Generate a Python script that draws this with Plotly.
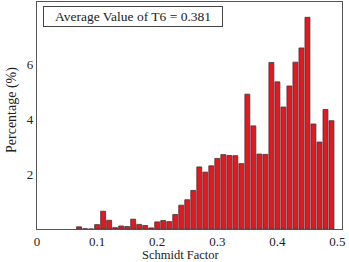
import plotly.graph_objects as go

bin_centers = [0.07, 0.08, 0.09, 0.10, 0.11, 0.12, 0.13, 0.14, 0.15, 0.16, 0.17, 0.18, 0.19,
               0.20, 0.21, 0.22, 0.23, 0.24, 0.25, 0.26, 0.27, 0.28, 0.29, 0.30, 0.31, 0.32,
               0.33, 0.34, 0.35, 0.36, 0.37, 0.38, 0.39, 0.40, 0.41, 0.42, 0.43, 0.44, 0.45,
               0.46, 0.47, 0.48, 0.49]
percentages = [0.08, 0.01, 0.0, 0.16, 0.65, 0.32, 0.05, 0.11, 0.09, 0.36, 0.17, 0.13, 0.04,
               0.26, 0.31, 0.27, 0.53, 0.87, 1.07, 1.41, 2.27, 2.08, 2.31, 2.58, 2.72, 2.69,
               2.68, 2.39, 4.93, 3.77, 2.74, 2.73, 6.09, 5.38, 4.46, 5.23, 6.10, 6.62, 7.74,
               3.84, 3.18, 4.37, 3.96]
x_tick_vals = [0, 0.1, 0.2, 0.3, 0.4, 0.5]
x_tick_text = ["0", "0.1", "0.2", "0.3", "0.4", "0.5"]
y_tick_vals = [2, 4, 6]
y_tick_text = ["2", "4", "6"]
annotation_text = "Average Value of T6 = 0.381"
x_title = "Schmidt Factor"
y_title = "Percentage (%)"

font_family = "Liberation Serif, Times New Roman, serif"

# plot area in pixels: x 37..342, y 2..229
def px(x):
    return (x - 37) / 305

def py(y):
    return (229 - y) / 227

fig = go.Figure()
fig.add_trace(go.Bar(
    x=bin_centers, y=percentages, width=0.0082,
    marker=dict(color="#e8161e", line=dict(color="#3a3a3a", width=0.8)),
))

fig.update_layout(
    width=349, height=262,
    margin=dict(l=37, r=7, t=2, b=33),
    paper_bgcolor="white", plot_bgcolor="white",
    showlegend=False,
    font=dict(family=font_family, size=13, color="#222"),
    xaxis=dict(range=[0, 0.5075], tickvals=x_tick_vals, ticktext=x_tick_text,
               showgrid=False, zeroline=False, showline=True, linecolor="#555",
               linewidth=1.2, mirror=True, ticks="", ticklen=0, automargin=False),
    yaxis=dict(range=[0, 8.3], tickvals=y_tick_vals, ticktext=y_tick_text,
               showgrid=False, zeroline=False, showline=True, linecolor="#555",
               linewidth=1.2, mirror=True, ticks="", ticklen=0, automargin=False),
    annotations=[
        dict(text=annotation_text, xref="paper", yref="paper",
             x=px(133), y=py(17), xanchor="center", yanchor="middle",
             showarrow=False, font=dict(size=13.5, color="#222"),
             bordercolor="#444", borderwidth=1, bgcolor="white",
             borderpad=2, width=174, height=15),
        dict(text=x_title, xref="paper", yref="paper",
             x=px(181), y=py(255), xanchor="center", yanchor="middle",
             showarrow=False, font=dict(size=12.5, color="#222")),
        dict(text=y_title, xref="paper", yref="paper", textangle=-90,
             x=px(12), y=py(110), xanchor="center", yanchor="middle",
             showarrow=False, font=dict(size=14, color="#222")),
    ],
)

fig.write_html("out.html", config={"displayModeBar": False},
               post_script="document.body.style.margin='0';")
